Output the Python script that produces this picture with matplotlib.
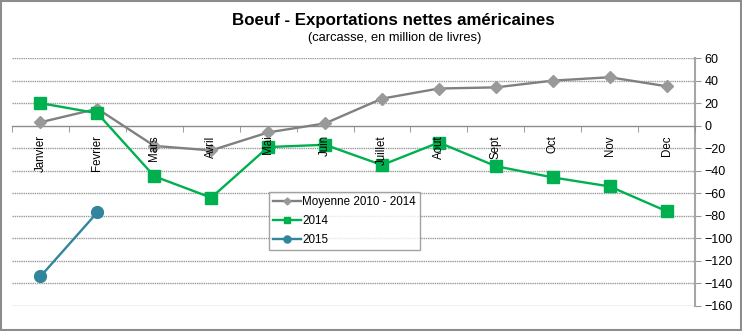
import matplotlib
matplotlib.use("Agg")
import matplotlib.pyplot as plt
from matplotlib.patches import Rectangle
import numpy as np

plt.rcParams['font.family'] = ['Liberation Sans', 'DejaVu Sans']

months = ["Janvier", "Fevrier", "Mars", "Avril", "Mai", "Juin", "Juillet",
          "Aout", "Sept", "Oct", "Nov", "Dec"]
moyenne = [3, 15, -18, -22, -6, 2, 24, 33, 34, 40, 43, 35]
y2014 = [20, 11, -45, -64, -19, -17, -35, -15, -36, -46, -54, -76]
y2015 = [-134, -77]
yticks = [60, 40, 20, 0, -20, -40, -60, -80, -100, -120, -140, -160]

fig = plt.figure(figsize=(7.42, 3.31), dpi=100)
fig.patches.append(Rectangle((0.002, 0.003), 0.996, 0.994, transform=fig.transFigure,
                             fill=False, edgecolor='#8c8c8c', linewidth=1.5))
ax = fig.add_axes([0.0162, 0.0764, 0.9205, 0.748])

x = np.arange(len(months))
ax.plot(x, moyenne, color='#808080', lw=1.7, marker='D', ms=6,
        mfc='#999999', mec='#999999', label='Moyenne 2010 - 2014', zorder=3)
ax.plot(x, y2014, color='#00B050', lw=1.7, marker='s', ms=8,
        mfc='#00B050', mec='#00B050', label='2014', zorder=4)
ax.plot(x[:len(y2015)], y2015, color='#31859C', lw=1.7, marker='o', ms=8.5,
        mfc='#31859C', mec='#31859C', label='2015', zorder=4)

ax.set_xlim(-0.5, len(months) - 0.5)
ax.set_ylim(-160, 60)
ax.set_yticks(yticks)
ax.yaxis.tick_right()
ax.tick_params(axis='y', length=4, color='#999999', labelsize=9, pad=3)
for t in yticks:
    if t != 0:
        ax.axhline(t, color='#9a9a9a', lw=1, ls=(0, (1, 0.6)), zorder=1)

for s in ['left', 'top']:
    ax.spines[s].set_visible(False)
ax.spines['right'].set_color('#a6a6a6')
ax.spines['right'].set_linewidth(1.5)
ax.spines['bottom'].set_position(('data', 0))
ax.spines['bottom'].set_color('#8c8c8c')
ax.spines['bottom'].set_linewidth(1)

ax.set_xticks(x)
ax.set_xticklabels(months, rotation=90, fontsize=8.3, va='top')
ax.set_xticks(np.arange(-0.5, len(months) + 0.5, 1), minor=True)
ax.tick_params(axis='x', which='major', length=0, pad=7)
ax.tick_params(axis='x', which='minor', length=4, color='#8c8c8c', direction='out')
ax.xaxis.set_zorder(6)

leg = ax.legend(loc='upper left', bbox_to_anchor=(0.3765, 0.46), fontsize=8.4,
                frameon=True, fancybox=False, edgecolor='#8c8c8c',
                handlelength=2.4, handletextpad=0.1, borderpad=0.35,
                labelspacing=0.6, markerscale=0.6, borderaxespad=0)
leg.get_frame().set_linewidth(1)
leg.set_zorder(7)

fig.text(0.53, 0.938, "Boeuf - Exportations nettes américaines", ha='center',
         va='center', fontsize=12.2, fontweight='bold')
fig.text(0.532, 0.885, "(carcasse, en million de livres)", ha='center',
         va='center', fontsize=9.3)

fig.savefig("out.png", dpi=100)
